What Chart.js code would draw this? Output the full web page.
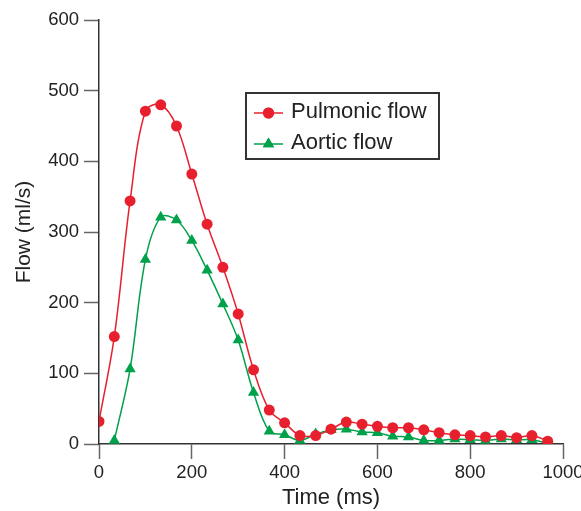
<!DOCTYPE html>
<html>
<head>
<meta charset="utf-8">
<script src="https://cdn.jsdelivr.net/npm/chart.js@4"></script>
<style>
  html, body { margin: 0; padding: 0; background: #fff; }
  #wrap { width: 581px; height: 511px; }
</style>
</head>
<body>
<div id="wrap"><canvas id="myChart" width="581" height="511"></canvas></div>
<script>
// time (ms) of each sample
let pulmonicTime = [0, 33, 67, 100, 133, 167, 200, 233, 267, 300, 333, 367, 400, 433, 467,
    500, 533, 567, 600, 633, 667, 700, 733, 767, 800, 833, 867, 900, 933, 967];
let pulmonicFlow = [32, 152, 344, 471, 480, 450, 382, 311, 250, 184, 105, 48, 30, 12, 12,
    21, 31, 28, 25, 23, 23, 20, 16, 13, 12, 10, 12, 9, 12, 4];

let aorticTime = [33, 67, 100, 133, 167, 200, 233, 267, 300, 333, 367, 400, 433, 467,
    500, 533, 567, 600, 633, 667, 700, 733, 767, 800, 833, 867, 900, 933, 967];
let aorticFlow = [5, 106, 261, 321, 317, 288, 246, 198, 147, 73, 18, 13, 5, 14,
    20, 21, 17, 16, 11, 10, 5, 5, 7, 6, 5, 7, 6, 6, 1];

let xTicks = [0, 200, 400, 600, 800, 1000];
let yTicks = [0, 100, 200, 300, 400, 500, 600];

const RED = "#e8202e";
const GREEN = "#00a14b";
const FONT = "'Liberation Sans', Arial, sans-serif";

function toPoints(xs, ys) {
    return xs.map((x, i) => ({ x: x, y: ys[i] }));
}

// legend box drawn inside the plot, like the original figure
const boxLegend = {
    id: "boxLegend",
    afterDraw(chart) {
        const ctx = chart.ctx;
        ctx.save();
        ctx.strokeStyle = "#333";
        ctx.lineWidth = 2;
        ctx.strokeRect(246, 93, 193, 66);
        const items = [
            { label: "Pulmonic flow", color: RED, style: "circle", r: 5.5, y: 113 },
            { label: "Aortic flow", color: GREEN, style: "triangle", r: 6.5, y: 144 }
        ];
        items.forEach(it => {
            ctx.strokeStyle = it.color;
            ctx.lineWidth = 1.5;
            ctx.beginPath();
            ctx.moveTo(254, it.y);
            ctx.lineTo(283, it.y);
            ctx.stroke();
            ctx.fillStyle = it.color;
            Chart.helpers.drawPoint(ctx, { pointStyle: it.style, radius: it.r, borderWidth: 0 }, 268.5, it.y);
            ctx.fill();
            ctx.fillStyle = "#222";
            ctx.font = "22px " + FONT;
            ctx.textBaseline = "middle";
            ctx.fillText(it.label, 291, it.y - 1);
        });
        ctx.restore();
    }
};

let myChart = document.getElementById("myChart").getContext("2d");

let flowChart = new Chart(myChart, {
    type: "line",
    data: {
        datasets: [{
            label: "Pulmonic flow",
            data: toPoints(pulmonicTime, pulmonicFlow),
            borderColor: RED,
            backgroundColor: RED,
            borderWidth: 1.5,
            pointStyle: "circle",
            pointRadius: 5.5,
            pointBorderWidth: 0,
            tension: 0.35
        }, {
            label: "Aortic flow",
            data: toPoints(aorticTime, aorticFlow),
            borderColor: GREEN,
            backgroundColor: GREEN,
            borderWidth: 1.5,
            pointStyle: "triangle",
            pointRadius: 6.5,
            pointBorderWidth: 0,
            tension: 0.35
        }]
    },
    options: {
        responsive: false,
        animation: false,
        layout: { padding: { top: 20, right: 18, left: 0, bottom: 0 } },
        plugins: {
            legend: { display: false },
            tooltip: { enabled: false }
        },
        scales: {
            x: {
                type: "linear",
                min: 0,
                max: 1000,
                afterBuildTicks: s => { s.ticks = xTicks.map(v => ({ value: v })); },
                afterFit: s => { s.height = 67; s.paddingLeft = 0; s.paddingRight = 0; },
                grid: { drawOnChartArea: false, tickLength: 15, tickColor: "#666", tickWidth: 1.5 },
                border: { color: "#333", width: 1.5 },
                ticks: { color: "#222", font: { family: FONT, size: 18.5 }, padding: 3, maxRotation: 0,
                    callback: v => String(v) },
                title: { display: true, text: "Time (ms)", color: "#222", font: { family: FONT, size: 22 }, padding: { top: 0, bottom: 0 } }
            },
            y: {
                min: 0,
                max: 600,
                afterBuildTicks: s => { s.ticks = yTicks.map(v => ({ value: v })); },
                afterFit: s => { s.width = 99; },
                grid: { drawOnChartArea: false, tickLength: 15, tickColor: "#666", tickWidth: 1.5 },
                border: { color: "#333", width: 1.5 },
                ticks: { color: "#222", font: { family: FONT, size: 18.5 }, padding: 5,
                    callback: v => String(v) },
                title: { display: true, text: "Flow (ml/s)", color: "#222", font: { family: FONT, size: 21 }, padding: { top: 12, bottom: 0 } }
            }
        }
    },
    plugins: [boxLegend]
});
</script>
</body>
</html>
